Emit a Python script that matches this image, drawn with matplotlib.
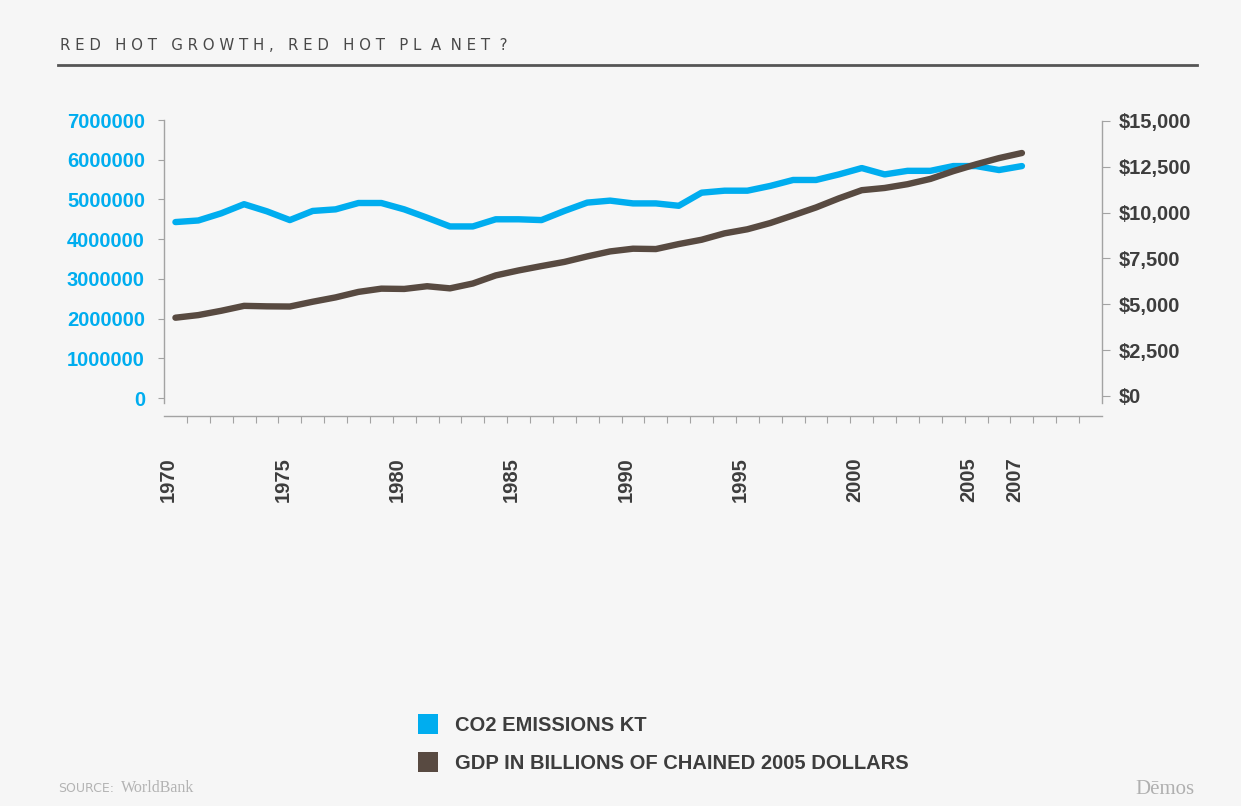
import numpy as np
import matplotlib
matplotlib.use("Agg")
import matplotlib.pyplot as plt
import matplotlib.transforms as mtransforms
from matplotlib.lines import Line2D

# data
years = list(range(1970, 2011))          # category axis 1970..2010
label_years = [1970, 1975, 1980, 1985, 1990, 1995, 2000, 2005, 2007]
co2_kt = [4430000, 4470000, 4650000, 4880000, 4700000, 4480000, 4710000, 4750000,
          4910000, 4910000, 4750000, 4540000, 4320000, 4320000, 4500000, 4500000,
          4480000, 4710000, 4920000, 4970000, 4900000, 4900000, 4840000, 5170000,
          5220000, 5220000, 5340000, 5490000, 5490000, 5630000, 5790000, 5630000,
          5720000, 5720000, 5840000, 5840000, 5740000, 5840000]
gdp_bn = [4270, 4413, 4648, 4917, 4890, 4880, 5141, 5378, 5678, 5855, 5839, 5987,
          5871, 6136, 6577, 6849, 7087, 7313, 7614, 7886, 8034, 8015, 8287, 8523,
          8871, 9094, 9434, 9854, 10284, 10780, 11226, 11347, 11553, 11841, 12264,
          12638, 12976, 13254]
series_labels = ["CO2 EMISSIONS KT", "GDP IN BILLIONS OF CHAINED 2005 DOLLARS"]

BLUE = "#00adef"
BROWN = "#584a41"
BG = "#f6f6f6"
DARK = "#3d3d3d"
AXC = "#a3a3a3"
W, H = 1241, 806

fig = plt.figure(figsize=(W / 100, H / 100), dpi=100, facecolor=BG)
ax = fig.add_axes([164 / W, 1 - 416 / H, (1102 - 164) / W, (416 - 120) / H])
ax.set_facecolor(BG)
ax2 = ax.twinx()

x = np.arange(len(co2_kt))
ax.plot(x, co2_kt, color=BLUE, lw=4.6, solid_joinstyle="round", solid_capstyle="round")
ax2.plot(x, gdp_bn, color=BROWN, lw=4.6, solid_joinstyle="round", solid_capstyle="round")

ax.set_xlim(-0.5, len(years) - 0.5)
ax.set_ylim(-453000, 7000000)
ax2.set_ylim(-1091, 15054)

# x axis: labels on selected years, small ticks between categories
ax.set_xticks([years.index(y) for y in label_years])
ax.set_xticklabels([str(y) for y in label_years], rotation=90, fontsize=14.5,
                   fontweight="bold", color=DARK, family="Liberation Sans")
ax.set_xticks(np.arange(0.5, len(years) - 1, 1), minor=True)
ax.tick_params(axis="x", which="major", length=0, pad=29.5)
ax.tick_params(axis="x", which="minor", length=5, width=0.8, color=AXC)
shift = mtransforms.ScaledTranslation(-7 / 100, 0, fig.dpi_scale_trans)
for lab in ax.get_xticklabels():
    lab.set_transform(lab.get_transform() + shift)

# left axis
ax.set_yticks(range(0, 7000001, 1000000))
ax.set_yticklabels([str(v) for v in range(0, 7000001, 1000000)], fontsize=14.5,
                   fontweight="bold", color=BLUE, family="Liberation Sans")
ax.tick_params(axis="y", length=4.3, width=0.8, color=AXC, pad=9.4)

# right axis
ax2.set_yticks(range(0, 15001, 2500))
ax2.set_yticklabels(["${:,}".format(v) for v in range(0, 15001, 2500)], fontsize=14.5,
                    fontweight="bold", color=DARK, family="Liberation Sans")
ax2.tick_params(axis="y", length=5.8, width=0.8, color=AXC, pad=6.5)

for a in (ax, ax2):
    for s in a.spines.values():
        s.set_color(AXC)
        s.set_linewidth(1)
    a.spines["top"].set_visible(False)
ax.spines["right"].set_visible(False)
ax2.spines["left"].set_visible(False)
ax2.spines["bottom"].set_visible(False)
ax.spines["left"].set_bounds(-126000, 7000000)
ax2.spines["right"].set_bounds(-380, 15000)

# title + rule
fig.text(60 / W, 1 - 45 / H, "R E D   H O T   G R O W T H ,   R E D   H O T   P L  A  N E T  ?",
         fontsize=10.8, color="#484848", va="center", ha="left", family="DejaVu Sans")
fig.add_artist(Line2D([58 / W, 1197 / W], [1 - 65 / H, 1 - 65 / H], color="#555555", lw=2))

# legend
handles = [Line2D([], [], marker="s", ls="", color=c, markersize=14, markeredgewidth=0)
           for c in (BLUE, BROWN)]
fig.legend(handles, series_labels, loc="upper left", bbox_to_anchor=(400 / W, 1 - 698 / H),
           frameon=False, handlelength=1.0, handletextpad=0.85, labelspacing=0.95,
           prop={"family": "Liberation Sans", "weight": "bold", "size": 14.5},
           labelcolor=DARK)

# footer
fig.text(58 / W, 1 - 788 / H, "SOURCE:", fontsize=9, color="#b3b3b3", va="center",
         family="DejaVu Sans")
fig.text(121 / W, 1 - 788 / H, "WorldBank", fontsize=11.5, color="#b3b3b3", va="center",
         family="Liberation Serif")
fig.text(1195 / W, 1 - 789 / H, "Dēmos", fontsize=15, color="#b0b0b0", va="center",
         ha="right", family="Liberation Serif")

fig.savefig("out.png", dpi=100, facecolor=BG)
